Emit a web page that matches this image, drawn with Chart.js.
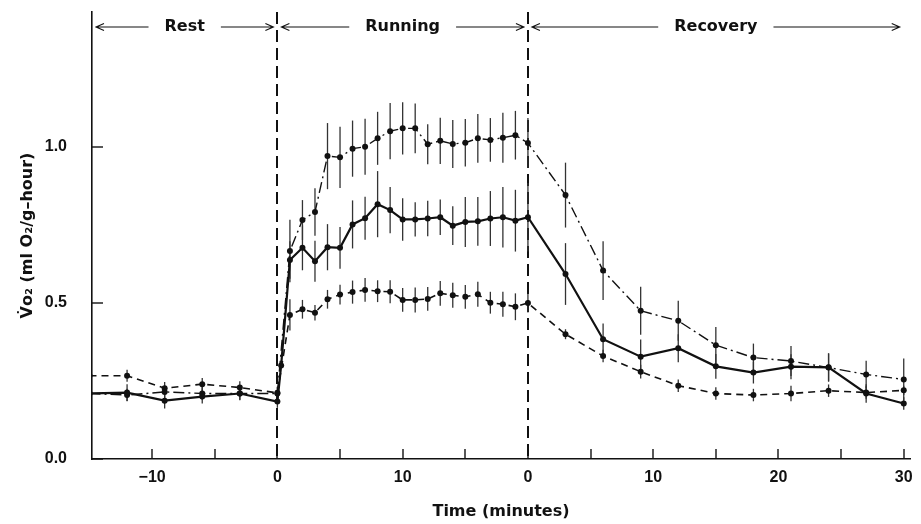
<!DOCTYPE html>
<html>
<head>
<meta charset="utf-8">
<script src="https://cdn.jsdelivr.net/npm/chart.js@4.4.1/dist/chart.umd.min.js"></script>
<style>
  html, body { margin: 0; padding: 0; background: #fff; }
  #wrap { width: 921px; height: 524px; }
</style>
</head>
<body>
<div id="wrap"><canvas id="chart" width="921" height="524"></canvas></div>
<script>
// Time (minutes). Recovery is drawn shifted by +20 so the three phases sit on one axis.
const restTime  = [-15, -12, -9, -6, -3, 0];
const runTime   = [1, 2, 3, 4, 5, 6, 7, 8, 9, 10, 11, 12, 13, 14, 15, 16, 17, 18, 19, 20];
const recTime   = [3, 6, 9, 12, 15, 18, 21, 24, 27, 30];
const REC_SHIFT = 20;

// solid line (with one early point at 0.3 min of running)
const solidEarlyTime = [0.3];
const solidEarly     = [0.30];
const solidRest = [0.21, 0.213, 0.187, 0.2, 0.21, 0.184];
const solidRun  = [0.638, 0.677, 0.634, 0.679, 0.677, 0.752, 0.772, 0.817, 0.798, 0.768,
                   0.768, 0.771, 0.775, 0.748, 0.76, 0.762, 0.771, 0.775, 0.764, 0.775];
const solidRec  = [0.593, 0.384, 0.328, 0.355, 0.297, 0.277, 0.296, 0.294, 0.21, 0.178];
const solidRestErr = [0, 0.027, 0.025, 0.022, 0.022, 0.02];
const solidRunErr  = [0.06, 0.072, 0.066, 0.074, 0.067, 0.077, 0.069, 0.106, 0.074, 0.068,
                      0.055, 0.057, 0.057, 0.062, 0.08, 0.078, 0.088, 0.097, 0.099, 0.11];
const solidRecErr  = [0.099, 0.05, 0.055, 0.045, 0.04, 0.035, 0.04, 0.045, 0.03, 0.02];

// dash-dot line (upper)
const dotRest = [0.21, 0.205, 0.215, 0.21, 0.21, 0.21];
const dotRun  = [0.667, 0.766, 0.792, 0.971, 0.967, 0.995, 1.001, 1.028, 1.051, 1.06,
                 1.06, 1.009, 1.02, 1.01, 1.014, 1.028, 1.023, 1.03, 1.038, 1.013];
const dotRec  = [0.846, 0.604, 0.475, 0.443, 0.365, 0.325, 0.314, 0.293, 0.271, 0.255];
const dotRestErr = [0, 0.02, 0.02, 0.02, 0.02, 0.02];
const dotRunErr  = [0.1, 0.064, 0.076, 0.106, 0.098, 0.09, 0.09, 0.085, 0.09, 0.084,
                    0.08, 0.064, 0.074, 0.077, 0.076, 0.078, 0.07, 0.08, 0.078, 0.08];
const dotRecErr  = [0.104, 0.094, 0.077, 0.064, 0.058, 0.045, 0.048, 0.045, 0.044, 0.067];

// dashed line (lower)
const dashRest = [0.267, 0.267, 0.227, 0.24, 0.229, 0.212];
const dashRun  = [0.462, 0.48, 0.469, 0.512, 0.527, 0.535, 0.542, 0.538, 0.536, 0.51,
                  0.51, 0.513, 0.531, 0.525, 0.52, 0.528, 0.501, 0.496, 0.488, 0.5];
const dashRec  = [0.4, 0.33, 0.28, 0.235, 0.21, 0.205, 0.21, 0.219, 0.213, 0.22];
const dashRestErr = [0, 0.019, 0.02, 0.02, 0.02, 0.02];
const dashRunErr  = [0.05, 0.03, 0.025, 0.03, 0.032, 0.037, 0.038, 0.035, 0.037, 0.038,
                     0.04, 0.038, 0.04, 0.04, 0.038, 0.04, 0.035, 0.04, 0.043, 0.03];
const dashRecErr  = [0.016, 0.02, 0.022, 0.02, 0.02, 0.02, 0.025, 0.02, 0.02, 0.015];

// axes
const xTickPos  = [-10, -5, 0, 5, 10, 15, 20, 25, 30, 35, 40, 45, 50];
const xTickText = ['\u221210', '', '0', '', '10', '', '0', '', '10', '', '20', '', '30'];
const yTickPos  = [0, 0.5, 1.0];
const phaseNames = ['Rest', 'Running', 'Recovery'];
const phaseEdges = [-14.8, 0, 20, 50];
const X_MIN = -14.8, X_MAX = 50.5, Y_MAX = 1.433;

function pts(times, vals, shift = 0) {
  return times.map((t, i) => ({ x: t + shift, y: vals[i] }));
}

const INK = '#111';

function mkSet(data, errors, width, dash) {
  return {
    data, errors,
    borderColor: INK, backgroundColor: INK,
    borderWidth: width, borderDash: dash,
    pointRadius: 3, pointBackgroundColor: INK, pointBorderWidth: 0,
    tension: 0,
  };
}

const datasets = [
  mkSet([...pts(restTime, solidRest), ...pts(solidEarlyTime, solidEarly), ...pts(runTime, solidRun), ...pts(recTime, solidRec, REC_SHIFT)],
        [...solidRestErr, 0, ...solidRunErr, ...solidRecErr], 2.2, []),
  mkSet([...pts(restTime, dotRest), ...pts(runTime, dotRun), ...pts(recTime, dotRec, REC_SHIFT)],
        [...dotRestErr, ...dotRunErr, ...dotRecErr], 1.4, [11, 4, 2, 4]),
  mkSet([...pts(restTime, dashRest), ...pts(runTime, dashRun), ...pts(recTime, dashRec, REC_SHIFT)],
        [...dashRestErr, ...dashRunErr, ...dashRecErr], 1.6, [7, 5]),
];

function arrow(ctx, from, to, y) {
  const d = Math.sign(to - from);
  ctx.beginPath();
  ctx.moveTo(from, y); ctx.lineTo(to, y);
  ctx.moveTo(to - d * 8, y - 3.5); ctx.lineTo(to, y); ctx.lineTo(to - d * 8, y + 3.5);
  ctx.stroke();
}

const decor = {
  id: 'decor',
  beforeDatasetsDraw(chart) {
    const { ctx, chartArea: a, scales: { x, y } } = chart;
    ctx.save();
    ctx.strokeStyle = INK;

    // phase dividers
    ctx.lineWidth = 2;
    ctx.setLineDash([12, 6]);
    phaseEdges.slice(1, -1).forEach(v => {
      const px = Math.round(x.getPixelForValue(v));
      ctx.beginPath(); ctx.moveTo(px, a.top); ctx.lineTo(px, a.bottom); ctx.stroke();
    });
    ctx.setLineDash([]);

    // inward tick marks
    ctx.lineWidth = 1.4;
    xTickPos.forEach(v => {
      const px = Math.round(x.getPixelForValue(v));
      ctx.beginPath(); ctx.moveTo(px, a.bottom); ctx.lineTo(px, a.bottom - 10); ctx.stroke();
    });
    yTickPos.forEach(v => {
      const py = Math.round(y.getPixelForValue(v));
      ctx.beginPath(); ctx.moveTo(a.left, py); ctx.lineTo(a.left + 11, py); ctx.stroke();
    });

    // error bars
    ctx.strokeStyle = '#333';
    ctx.lineWidth = 1.3;
    chart.data.datasets.forEach(ds => {
      ds.errors.forEach((e, j) => {
        if (!e) return;
        const p = ds.data[j];
        const px = x.getPixelForValue(p.x);
        ctx.beginPath();
        ctx.moveTo(px, y.getPixelForValue(p.y + e));
        ctx.lineTo(px, y.getPixelForValue(p.y - e));
        ctx.stroke();
      });
    });
    ctx.restore();
  },
  afterDraw(chart) {
    const { ctx, scales: { x } } = chart;
    const yh = 27;
    ctx.save();
    ctx.font = 'bold 16px "DejaVu Sans"';
    ctx.fillStyle = INK;
    ctx.strokeStyle = INK;
    ctx.lineWidth = 1.1;
    ctx.textAlign = 'center';
    ctx.textBaseline = 'middle';
    phaseNames.forEach((name, i) => {
      const l = x.getPixelForValue(phaseEdges[i]) + 4;
      const r = x.getPixelForValue(phaseEdges[i + 1]) - 4;
      const c = (l + r) / 2;
      const w = ctx.measureText(name).width;
      ctx.fillText(name, c, yh);
      arrow(ctx, c - w / 2 - 16, l, yh);
      arrow(ctx, c + w / 2 + 16, r, yh);
    });
    ctx.restore();
  },
};

new Chart(document.getElementById('chart'), {
  type: 'line',
  data: { datasets },
  options: {
    responsive: false,
    animation: false,
    layout: { padding: { top: 12, right: 11, left: 0, bottom: 0 } },
    plugins: { legend: { display: false }, tooltip: { enabled: false } },
    scales: {
      x: {
        type: 'linear',
        min: X_MIN, max: X_MAX,
        afterFit: s => { s.height = 65; s.paddingLeft = 0; s.paddingRight = 0; },
        afterBuildTicks: s => { s.ticks = xTickPos.map(v => ({ value: v })); },
        ticks: {
          autoSkip: false, maxRotation: 0, padding: 9,
          color: INK, font: { family: 'Liberation Sans', weight: 'bold', size: 16 },
          callback: v => xTickText[xTickPos.indexOf(v)] ?? '',
        },
        grid: { display: true, drawOnChartArea: false, drawTicks: false },
        border: { display: true, color: INK, width: 1.6 },
        title: {
          display: true, text: 'Time (minutes)', color: INK,
          font: { family: 'DejaVu Sans', weight: 'bold', size: 16 },
          padding: { top: 0, bottom: 3 },
        },
      },
      y: {
        min: 0, max: Y_MAX,
        afterFit: s => { s.width = 92; s.paddingTop = 0; s.paddingBottom = 0; },
        afterBuildTicks: s => { s.ticks = yTickPos.map(v => ({ value: v })); },
        ticks: {
          padding: 25, color: INK,
          font: { family: 'Liberation Sans', weight: 'bold', size: 16 },
          callback: v => v.toFixed(1),
        },
        grid: { display: true, drawOnChartArea: false, drawTicks: false },
        border: { display: true, color: INK, width: 1.6 },
        title: {
          display: true, text: 'V\u0307o\u2082 (ml O\u2082/g\u2013hour)', color: INK,
          font: { family: 'DejaVu Sans', weight: 'bold', size: 16 },
          padding: { top: 18, bottom: 0 },
        },
      },
    },
  },
  plugins: [decor],
});
</script>
</body>
</html>
